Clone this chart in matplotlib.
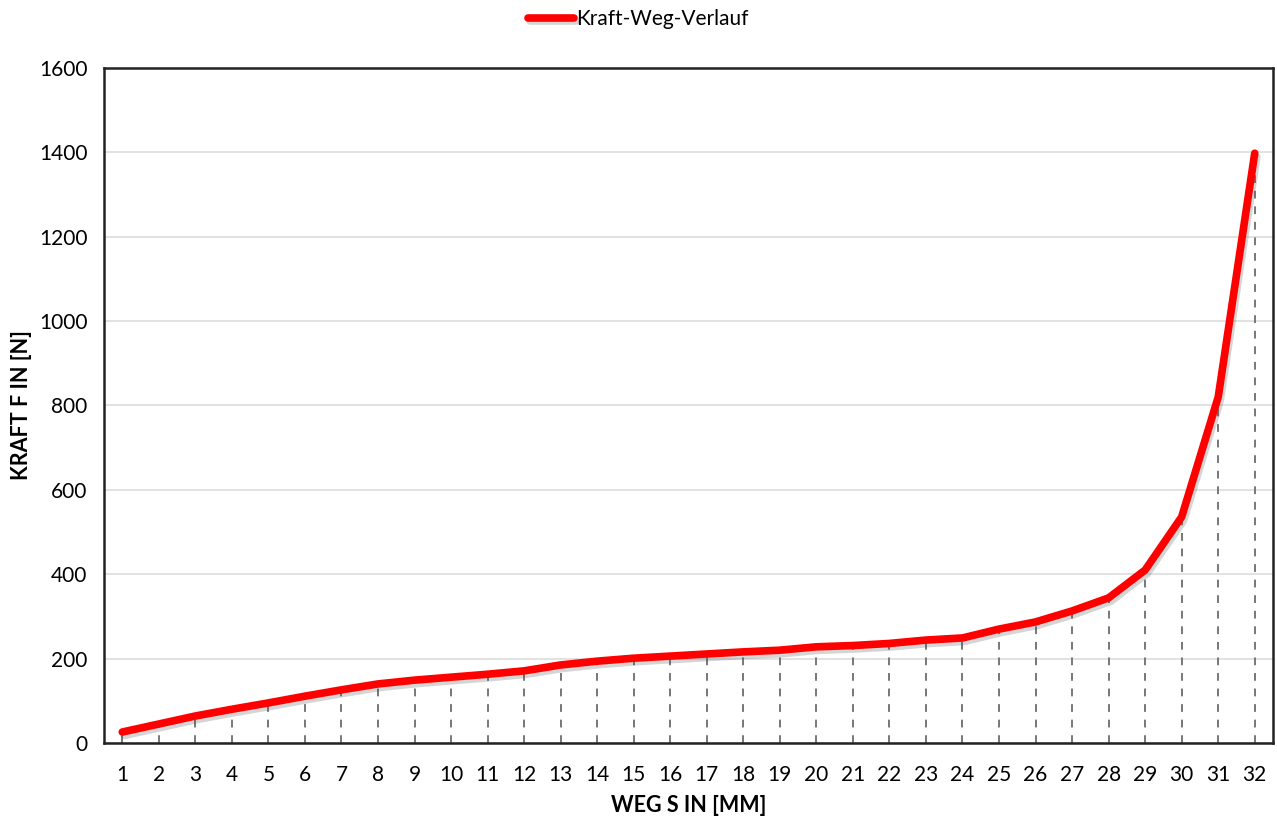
import matplotlib
matplotlib.use("Agg")
import matplotlib.pyplot as plt
import matplotlib.patheffects as pe

weg = list(range(1, 33))
kraft = [26, 45, 64, 80, 95, 111, 126, 140, 149, 156, 163, 171, 185, 194, 201, 206,
         211, 216, 220, 228, 231, 236, 244, 249, 270, 287, 313, 344, 410, 536, 820, 1398]
yticks = [0, 200, 400, 600, 800, 1000, 1200, 1400, 1600]

plt.rcParams['font.family'] = ['Lato', 'DejaVu Sans']

fig = plt.figure(figsize=(12.77, 8.17), dpi=100)
ax = fig.add_axes([104/1277, 74/817, 1169/1277, 675/817])

for x, y in zip(weg, kraft):
    ax.vlines(x, 0, y, colors='#777777', linestyles=(0, (4, 4)), linewidth=1.4, zorder=2)

ax.plot(weg, kraft, color='#ff0000', linewidth=5.5, solid_capstyle='round',
        solid_joinstyle='round', label='Kraft-Weg-Verlauf', zorder=3,
        path_effects=[pe.SimpleLineShadow(offset=(1.5, -2.5), alpha=0.22, shadow_color='#444444'),
                      pe.Normal()])

ax.set_xlim(0.5, 32.5)
ax.set_ylim(0, 1600)
ax.set_xticks(weg)
ax.set_yticks(yticks)
ax.tick_params(axis='both', length=0, labelsize=15, colors='black')
ax.tick_params(axis='x', pad=16)
ax.tick_params(axis='y', pad=12)
ax.grid(axis='y', color='#dddddd', linewidth=1.2, zorder=0)
ax.set_axisbelow(True)
for s in ax.spines.values():
    s.set_linewidth(1.8)
    s.set_color('#222222')

ax.set_xlabel('WEG S IN [MM]', fontsize=15.5, fontweight='bold', va='center')
ax.set_ylabel('KRAFT F IN [N]', fontsize=15.5, fontweight='bold', va='center')
ax.xaxis.set_label_coords(0.5, -0.092)
ax.yaxis.set_label_coords(-0.071, 0.5)

fig.legend(loc='upper center', bbox_to_anchor=(0.5, 1.012), frameon=False,
           fontsize=15, handlelength=2.2, handletextpad=0.1)

fig.savefig('out.png', dpi=100)
